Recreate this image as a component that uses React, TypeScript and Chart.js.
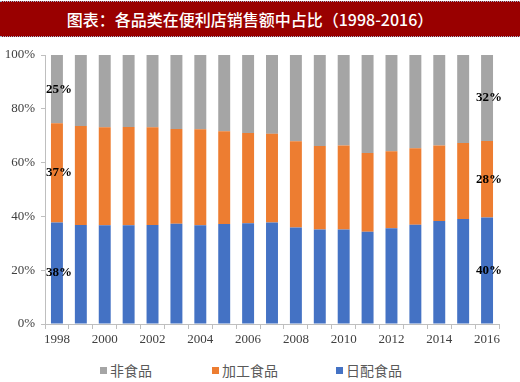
import React, { useEffect, useRef } from "react";
import { Chart, registerables } from "chart.js";

Chart.register(...registerables);

const years = ["1998","1999","2000","2001","2002","2003","2004","2005","2006","2007","2008","2009","2010","2011","2012","2013","2014","2015","2016"];
const daily = [37.7, 36.8, 36.7, 36.7, 36.8, 37.3, 36.7, 37.2, 37.5, 37.7, 35.9, 35.1, 35.1, 34.3, 35.6, 36.9, 38.3, 39.0, 39.6];
const processed = [36.9, 36.8, 36.4, 36.5, 36.3, 35.2, 35.7, 34.5, 33.5, 33.0, 32.0, 31.1, 31.3, 29.3, 28.6, 28.4, 28.1, 28.3, 28.4];
const nonFood = [25.4, 26.4, 26.9, 26.8, 26.9, 27.5, 27.6, 28.3, 29.0, 29.3, 32.1, 33.8, 33.6, 36.4, 35.8, 34.7, 33.6, 32.7, 32.0];
const yTicks = [0, 20, 40, 60, 80, 100];
const seriesNames = ["日配食品", "加工食品", "非食品"];
const seriesColors = ["#4472C4", "#ED7D31", "#A5A5A5"];
const titleText = "图表：各品类在便利店销售额中占比（1998-2016）";

const labelPlugin = {
  id: "endLabels",
  afterDatasetsDraw(chart: any) {
    const ctx = chart.ctx;
    ctx.save();
    ctx.font = "bold 13px 'Liberation Serif', 'Times New Roman', serif";
    ctx.fillStyle = "#000000";
    ctx.textAlign = "center";
    ctx.textBaseline = "middle";
    chart.data.datasets.forEach((ds: any, di: number) => {
      const meta = chart.getDatasetMeta(di);
      [0, ds.data.length - 1].forEach((i) => {
        const el: any = meta.data[i];
        if (!el) return;
        const v = ds.data[i];
        const y = (el.y + el.base) / 2;
        ctx.fillText(Math.round(v) + "%", el.x + 2, y);
      });
    });
    ctx.restore();
  },
};

export default function App() {
  const ref = useRef<HTMLCanvasElement>(null);
  useEffect(() => {
    if (!ref.current) return;
    const serif = "'Liberation Serif', 'Times New Roman', serif";
    const chart = new Chart(ref.current, {
      type: "bar",
      data: {
        labels: years,
        datasets: [
          { label: seriesNames[0], data: daily, backgroundColor: seriesColors[0] },
          { label: seriesNames[1], data: processed, backgroundColor: seriesColors[1] },
          { label: seriesNames[2], data: nonFood, backgroundColor: seriesColors[2] },
        ],
      },
      options: {
        animation: false,
        responsive: false,
        maintainAspectRatio: false,
        datasets: { bar: { categoryPercentage: 1, barPercentage: 0.5 } } as any,
        layout: { padding: { top: 15, right: 21, left: 0, bottom: 0 } },
        plugins: { legend: { display: false }, tooltip: { enabled: false }, title: { display: false } },
        scales: {
          x: {
            stacked: true,
            grid: { offset: true, drawOnChartArea: false, drawTicks: true, tickLength: 5, color: "#BFBFBF" },
            border: { display: true, color: "#BFBFBF" },
            ticks: {
              autoSkip: false,
              maxRotation: 0,
              padding: 3,
              color: "#404040",
              font: { family: serif, size: 13 },
              callback: (_v: any, i: number) => (i % 2 === 0 ? years[i] : ""),
            },
            afterFit: (s: any) => { s.height = 32; },
          },
          y: {
            stacked: true,
            min: 0,
            max: 100,
            afterBuildTicks: (s: any) => { s.ticks = yTicks.map((v) => ({ value: v })); },
            grid: { drawOnChartArea: false, drawTicks: true, tickLength: 4, color: "#BFBFBF" },
            border: { display: true, color: "#BFBFBF" },
            ticks: {
              padding: 6,
              color: "#404040",
              font: { family: serif, size: 13 },
              callback: (v: any) => v + "%",
            },
            afterFit: (s: any) => { s.width = 45; },
          },
        },
      },
      plugins: [labelPlugin],
    });
    return () => chart.destroy();
  }, []);

  const legendOrder = [2, 1, 0];
  return (
    <div style={{ position: "absolute", left: 0, top: 0, width: 520, height: 382, background: "#fff", overflow: "hidden" }}>
      <div
        style={{
          position: "absolute", left: 0, top: 1, width: 520, height: 36,
          background: "#990000", color: "#fff", borderTop: "1px dotted #9DB4D0", borderBottom: "1px dotted #9DB4D0",
          boxSizing: "border-box",
          fontFamily: "'Noto Sans CJK SC', sans-serif", fontSize: 16, fontWeight: 500,
          display: "flex", alignItems: "center", justifyContent: "center", paddingRight: 20,
        }}
      >
        {titleText}
      </div>
      <canvas ref={ref} width={520} height={316} style={{ position: "absolute", left: 0, top: 40, width: 520, height: 316 }} />
      <div
        style={{
          position: "absolute", left: 0, top: 361, width: 520, height: 18,
          fontFamily: "'Noto Sans CJK SC', sans-serif", fontSize: 14, color: "#595959",
        }}
      >
        {legendOrder.map((si, k) => {
          const lefts = [100, 212, 336];
          return (
            <div key={si} style={{ position: "absolute", left: lefts[k], top: 0, display: "flex", alignItems: "center", height: 18, whiteSpace: "nowrap" }}>
              <span style={{ display: "inline-block", width: 7, height: 7, background: seriesColors[si], marginRight: 3 }} />
              <span>{seriesNames[si]}</span>
            </div>
          );
        })}
      </div>
    </div>
  );
}
